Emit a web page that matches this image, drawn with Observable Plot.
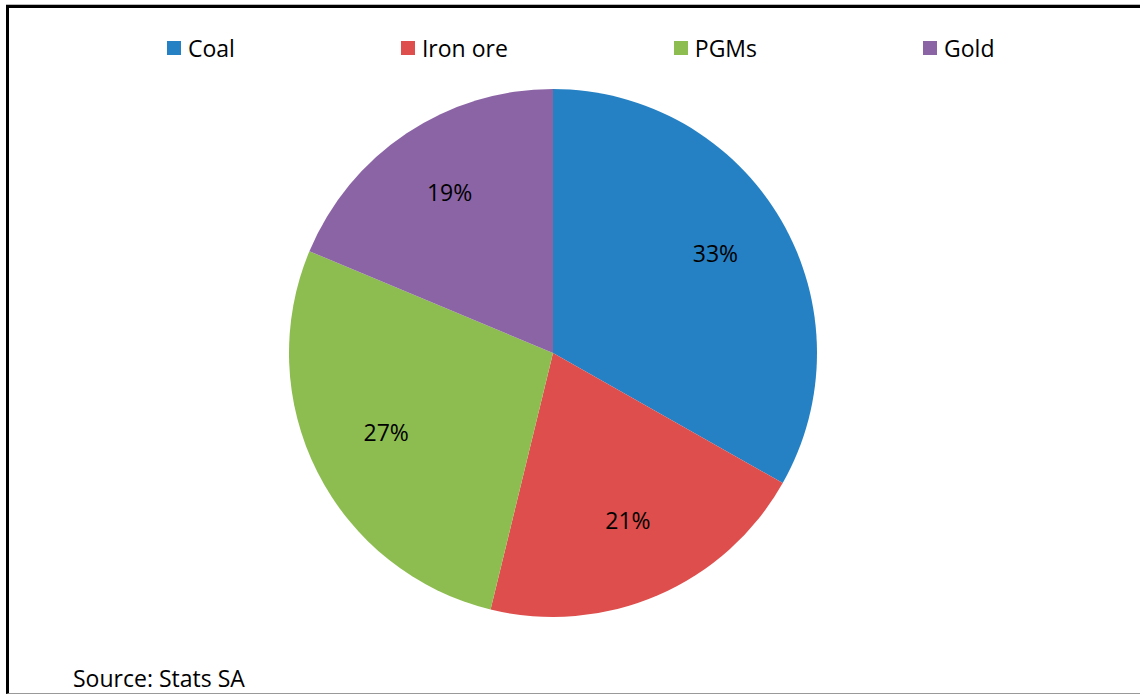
<!DOCTYPE html>
<html>
<head>
<meta charset="utf-8">
<script src="https://cdn.jsdelivr.net/npm/d3@7"></script>
<script src="https://cdn.jsdelivr.net/npm/@observablehq/plot@0.6"></script>
<style>
  html, body { margin: 0; padding: 0; background: #fff; }
  #frame { position: relative; width: 1140px; height: 698px; overflow: hidden; font-family: "Open Sans", sans-serif; }
  #topgrey { position: absolute; left: 6px; top: 4px; width: 1134px; height: 1px; background: #bbb; }
  #box { position: absolute; left: 6px; top: 5px; width: 1140px; height: 689px; border-left: 3px solid #000; border-top: 3px solid #000; border-bottom: 1px solid #999; box-sizing: border-box; }
  #chart { position: absolute; left: 0; top: 0; }
  #legend { position: absolute; left: 167px; top: 32px; display: flex; gap: 166px; font-size: 23px; color: #000; white-space: nowrap; }
  .item { display: flex; align-items: center; }
  .sw { width: 14px; height: 14px; margin-right: 7px; }
  #source { position: absolute; left: 73px; top: 662px; font-size: 23px; color: #000; }
</style>
</head>
<body>
<div id="frame">
  <div id="topgrey"></div>
  <div id="box"></div>
  <div id="chart"></div>
  <div id="legend"></div>
  <div id="source">Source: Stats SA</div>
</div>
<script>
const categories = ["Coal", "Iron ore", "PGMs", "Gold"];
const shares = [33.2, 20.6, 27.5, 18.7];
const colors = ["#2581C4", "#DD4E4C", "#8DBD50", "#8B64A5"];

const W = 1140, H = 698, CX = 553, CY = 353, R = 264;
const data = categories.map((c, i) => ({name: c, value: shares[i]}));
const total = d3.sum(shares);
const pie = d3.pie().value(d => d.value).sort(null)(data);
const labelR = 0.71;
const labels = pie.map(p => {
  const a = (p.startAngle + p.endAngle) / 2;
  return {x: labelR * Math.sin(a), y: labelR * Math.cos(a), text: d3.format(".0%")(p.data.value / total)};
});
const color = d3.scaleOrdinal(categories, colors);

const chart = Plot.plot({
  width: W, height: H,
  marginTop: 0, marginBottom: 0, marginLeft: 0, marginRight: 0,
  x: {domain: [-CX / R, (W - CX) / R], axis: null},
  y: {domain: [-(H - CY) / R, CY / R], axis: null},
  style: {background: "transparent", overflow: "visible"},
  marks: [
    (index, scales) => {
      const cx = scales.x(0), cy = scales.y(0);
      const r = scales.x(1) - scales.x(0);
      const arc = d3.arc().innerRadius(0).outerRadius(r);
      const g = d3.create("svg:g").attr("transform", `translate(${cx},${cy})`);
      g.selectAll("path").data(pie).join("path")
        .attr("d", arc)
        .attr("fill", d => color(d.data.name));
      return g.node();
    },
    Plot.text(labels, {x: "x", y: "y", dy: -4, text: "text", fontSize: 23, fill: "#000", fontFamily: "Open Sans"})
  ]
});
document.getElementById("chart").appendChild(chart);

const legend = document.getElementById("legend");
categories.forEach(c => {
  const it = document.createElement("div");
  it.className = "item";
  const sw = document.createElement("span");
  sw.className = "sw";
  sw.style.background = color(c);
  const t = document.createElement("span");
  t.textContent = c;
  it.appendChild(sw); it.appendChild(t);
  legend.appendChild(it);
});
</script>
</body>
</html>
